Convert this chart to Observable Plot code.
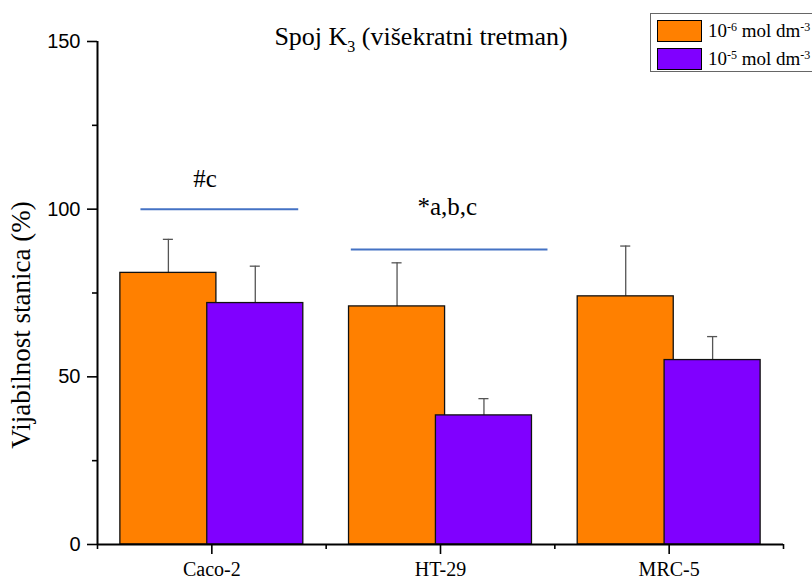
<!DOCTYPE html>
<html><head><meta charset="utf-8">
<script src="https://cdn.jsdelivr.net/npm/d3@7"></script>
<script src="https://cdn.jsdelivr.net/npm/@observablehq/plot@0.6"></script>
<style>
html,body{margin:0;padding:0;background:#fff;}
body{width:812px;height:579px;overflow:hidden;position:relative;font-family:"Liberation Serif","Times New Roman",serif;color:#000;}
#chart{position:absolute;left:0;top:0;}
#title{position:absolute;left:421px;top:24px;transform:translateX(-50%);white-space:nowrap;font-family:"Liberation Serif",serif;font-size:26px;line-height:26px;}
#title sub{font-size:16px;vertical-align:-7px;line-height:0;}
#ylabel{position:absolute;left:21px;top:325px;transform:translate(-50%,-50%) rotate(-90deg);white-space:nowrap;font-family:"Liberation Serif",serif;font-size:27px;line-height:27px;}
#legend{position:absolute;left:650px;top:13px;width:260px;height:59px;border:1.3px solid #666;box-sizing:border-box;background:#fff;}
.item{position:absolute;left:6px;height:22px;display:flex;align-items:center;white-space:nowrap;font-family:"Liberation Serif",serif;font-size:19px;}
.sw{width:43px;height:20px;border:1.5px solid #000;margin-right:6px;}
.item sup{font-size:12px;vertical-align:6px;line-height:0;}
</style></head><body>
<div id="chart"></div>
<div id="title">Spoj K<sub>3</sub> (višekratni tretman)</div>
<div id="ylabel">Vijabilnost stanica (%)</div>
<div id="legend"></div>
<script>
// ---- data ----
const categories = ["Caco-2", "HT-29", "MRC-5"];
const seriesNames = ["10<sup>-6</sup> mol dm<sup>-3</sup>", "10<sup>-5</sup> mol dm<sup>-3</sup>"];
const seriesColors = ["#FF8000", "#8000FF"];
const low = [81, 71, 74];        // 10^-6 mol dm^-3
const lowSD = [10, 13, 15];
const high = [72, 38.5, 55];     // 10^-5 mol dm^-3
const highSD = [11, 5, 7];
const yTicks = [0, 50, 100, 150];
const yMinorTicks = [25, 75, 125];
const annText = ["#c", "*a,b,c"];
const annTextX = [-0.03, 1.03];
const annTextY = [109, 100.5];
const annLineY = [100, 88];
const annLineX1 = [-0.31, 0.61];
const annLineX2 = [0.38, 1.47];

// ---- layout constants ----
const OFF = 0.19, HW = 0.21, CAP = 0.022;
const seriesVals = [low, high];
const seriesSD = [lowSD, highSD];

const data = [];
seriesVals.forEach((vals, s) => vals.forEach((v, i) => data.push({cat: i, s, v, sd: seriesSD[s][i]})));
const cx = d => d.cat + (d.s === 0 ? -OFF : OFF);

const marks = [];
[0, 1].forEach(s => {
  const ds = data.filter(d => d.s === s);
  marks.push(
    Plot.ruleX(ds, {x: cx, y1: "v", y2: d => d.v + d.sd, stroke: "#555", strokeWidth: 1.3}),
    Plot.ruleY(ds, {y: d => d.v + d.sd, x1: d => cx(d) - CAP, x2: d => cx(d) + CAP, stroke: "#555", strokeWidth: 1.3}),
    Plot.rectY(ds, {x1: d => cx(d) - HW, x2: d => cx(d) + HW, y1: 0, y2: "v", fill: seriesColors[s], stroke: "#111", strokeWidth: 1.3})
  );
});

const ann = annLineY.map((y, k) => ({y, x1: annLineX1[k], x2: annLineX2[k], t: annText[k], tx: annTextX[k], ty: annTextY[k]}));
marks.push(
  Plot.ruleY(ann, {y: "y", x1: "x1", x2: "x2", stroke: "#4472C4", strokeWidth: 2}),
  Plot.text(ann, {x: "tx", y: "ty", text: "t", fontSize: 25, fontFamily: "Liberation Serif", fill: "#000"})
);

marks.push(
  Plot.axisY({ticks: yTicks, tickSize: 10, tickPadding: 7, fontSize: 20, fontFamily: "Liberation Sans", label: null, stroke: "#000", strokeWidth: 1.6, fill: "#000"}),
  Plot.axisY({ticks: yMinorTicks, tickSize: 5, tickFormat: () => "", label: null, stroke: "#000", strokeWidth: 1.6}),
  Plot.axisX({ticks: [0, 1, 2], tickSize: 10, tickPadding: 7, tickFormat: i => categories[Math.round(i)], fontSize: 20, fontFamily: "Liberation Serif", label: null, stroke: "#000", strokeWidth: 1.6, fill: "#000"}),
  Plot.axisX({ticks: [-0.5, 0.5, 1.5, 2.5], tickSize: 5, tickFormat: () => "", label: null, stroke: "#000", strokeWidth: 1.6}),
  Plot.ruleX([-0.5], {y1: 0, y2: 150, stroke: "#000", strokeWidth: 2}),
  Plot.ruleY([0], {x1: -0.5, x2: 2.5, stroke: "#000", strokeWidth: 2})
);

const chart = Plot.plot({
  width: 812,
  height: 579,
  marginLeft: 97,
  marginRight: 29,
  marginTop: 41,
  marginBottom: 35,
  x: {domain: [-0.5, 2.5]},
  y: {domain: [0, 150]},
  style: {background: "#fff", color: "#000", overflow: "visible"},
  marks
});
document.getElementById("chart").appendChild(chart);

// legend
const legend = document.getElementById("legend");
seriesNames.forEach((name, s) => {
  const it = document.createElement("div");
  it.className = "item";
  it.style.top = (s === 0 ? 6 : 34) + "px";
  it.innerHTML = `<div class="sw" style="background:${seriesColors[s]}"></div><span>${name}</span>`;
  legend.appendChild(it);
});
</script>
</body></html>
